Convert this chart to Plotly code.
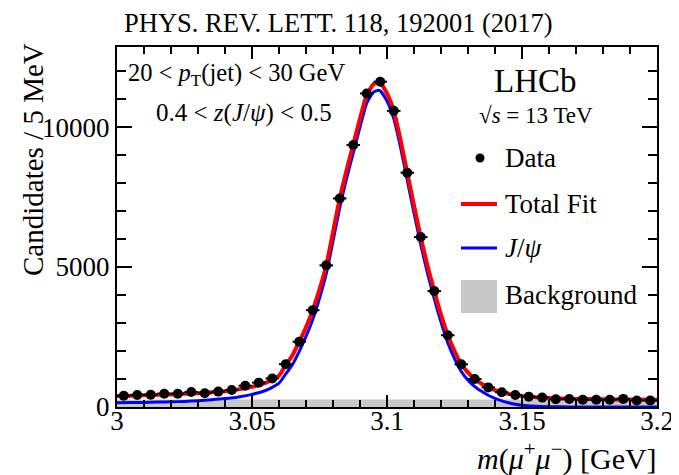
import numpy as np
import plotly.graph_objects as go

# ---- data ----
bin_centers = [3.0025 + 0.005 * i for i in range(40)]
data_counts = [400, 430, 440, 475, 475, 535, 490, 550, 610, 760,
               870, 1020, 1530, 2330, 3460, 5060, 7450, 9360, 11200, 11620,
               10580, 8370, 6070, 4140, 2565, 1525, 1000, 700, 525, 430,
               370, 335, 275, 285, 260, 260, 260, 290, 235, 235]
bin_half_width = 0.0025

fit_mass = [3.000, 3.005, 3.010, 3.015, 3.020, 3.025, 3.030, 3.035, 3.040, 3.045,
            3.050, 3.055, 3.0575, 3.060, 3.0625, 3.065, 3.0675, 3.070, 3.0725, 3.075,
            3.0775, 3.080, 3.0825, 3.085, 3.0875, 3.090, 3.0925, 3.095, 3.0965, 3.0975,
            3.100, 3.1025, 3.105, 3.1075, 3.110, 3.1125, 3.115, 3.1175, 3.120, 3.1225,
            3.125, 3.1275, 3.130, 3.1325, 3.135, 3.1375, 3.140, 3.1425, 3.145, 3.1475,
            3.150, 3.155, 3.160, 3.165, 3.170, 3.180, 3.190, 3.200]
total_fit = [395, 405, 420, 435, 450, 470, 495, 525, 565, 630,
             720, 860, 970, 1120, 1500, 1850, 2330, 2850, 3460, 4200,
             5060, 6250, 7450, 8450, 9380, 10300, 11150, 11530, 11600, 11570,
             11200, 10580, 9550, 8370, 7200, 6070, 5050, 4140, 3300, 2570,
             2000, 1530, 1230, 1000, 830, 700, 600, 525, 470, 430,
             390, 350, 320, 300, 290, 275, 265, 258]
jpsi_fit = [150, 157, 165, 175, 185, 200, 225, 258, 300, 360,
            450, 590, 700, 850, 1180, 1520, 1990, 2520, 3130, 3880,
            4760, 5920, 7120, 8150, 9080, 10000, 10850, 11250, 11310, 11290,
            10930, 10300, 9280, 8100, 6930, 5800, 4780, 3870, 3030, 2300,
            1730, 1270, 960, 730, 560, 420, 310, 220, 150, 100,
            62, 25, 10, 5, 3, 1, 0, 0]
bg_mass = [3.0, 3.2]
bg_counts = [268, 268]

x_tickvals = [3.0, 3.05, 3.1, 3.15, 3.2]
x_ticktext = ["3", "3.05", "3.1", "3.15", "3.2"]
y_tickvals = [0, 5000, 10000]
y_ticktext = ["0", "5000", "10000"]

FONT = "Liberation Serif, Times New Roman, serif"
RED = "#ff0000"
BLUE = "#0000ff"
GRAY = "#c8c8c8"

fig = go.Figure()
fig.add_trace(go.Scatter(x=bg_mass, y=bg_counts, mode="lines", fill="tozeroy",
                         fillcolor=GRAY, line=dict(width=0, color=GRAY),
                         name="Background", showlegend=False))
fig.add_trace(go.Scatter(x=fit_mass, y=jpsi_fit, mode="lines",
                         line=dict(color=BLUE, width=3, shape="spline", smoothing=0.6),
                         name="J/ψ", showlegend=False))
fig.add_trace(go.Scatter(x=fit_mass, y=total_fit, mode="lines",
                         line=dict(color=RED, width=4, shape="spline", smoothing=0.6),
                         name="Total Fit", showlegend=False))
fig.add_trace(go.Scatter(x=bin_centers, y=data_counts, mode="markers",
                         marker=dict(color="black", size=10),
                         error_x=dict(type="constant", value=bin_half_width,
                                      color="black", thickness=2, width=0),
                         name="Data", showlegend=False))

# page body adds an 8px offset; design in screen pixels and compensate
OFF = 8
W, H = 679, 475
PL, PR, PT, PB = 117, 657, 47, 407          # plot area in screen pixels
L, T = PL - OFF, PT - OFF
R = W - (PR - OFF)
B = H - (PB - OFF)
pw, ph = PR - PL, PB - PT

def px(xs):
    return (xs - PL) / pw

def py(ys):
    return (PB - ys) / ph

ann = []
def add_text(text, xs, ys, size, xanchor="left", angle=0):
    ann.append(dict(text=text, x=px(xs), y=py(ys), xref="paper", yref="paper",
                    xanchor=xanchor, yanchor="middle", showarrow=False,
                    textangle=angle, font=dict(family=FONT, size=size, color="black")))

add_text("PHYS. REV. LETT. 118, 192001 (2017)", 338, 23, 26.5, "center")
add_text("20 &lt; <i>p</i><sub>T</sub>(jet) &lt; 30 GeV", 126, 75, 24.5)
add_text("0.4 &lt; <i>z</i>(<i>J</i>/<i>ψ</i>) &lt; 0.5", 244, 113, 25, "center")
add_text("LHCb", 535, 81, 33, "center")
add_text("√<i>s</i> = 13 TeV", 536, 115, 23, "center")
add_text("Data", 503, 158, 27)
add_text("Total Fit", 503, 204, 27)
add_text("<i>J</i>/<i>ψ</i>", 503, 248, 27)
add_text("Background", 503, 295, 27)
add_text("Candidates / 5 MeV", 33, 160, 29, "center", -90)
add_text("<i>m</i>(<i>μ</i><sup>+</sup><i>μ</i><sup>−</sup>) [GeV]", 659, 456, 30, "right")

shapes = [
    dict(type="circle", xref="paper", yref="paper", x0=px(475.5), x1=px(484.5),
         y0=py(162.5), y1=py(153.5), fillcolor="black", line=dict(width=0)),
    dict(type="line", xref="paper", yref="paper", x0=px(461), x1=px(497),
         y0=py(204), y1=py(204), line=dict(color=RED, width=4)),
    dict(type="line", xref="paper", yref="paper", x0=px(461), x1=px(497),
         y0=py(248), y1=py(248), line=dict(color=BLUE, width=3)),
    dict(type="rect", xref="paper", yref="paper", x0=px(461), x1=px(497),
         y0=py(313), y1=py(280), fillcolor=GRAY, line=dict(width=0)),
]

axis_common = dict(showgrid=False, zeroline=False, showline=True, linecolor="black",
                   linewidth=2, mirror="allticks", ticks="inside", tickcolor="black",
                   tickwidth=1.5, tickfont=dict(family=FONT, size=27, color="black"))

fig.update_layout(
    width=W, height=H,
    margin=dict(l=L, r=R, t=T, b=B),
    paper_bgcolor="white", plot_bgcolor="white",
    showlegend=False,
    xaxis=dict(range=[3.0, 3.2], tickvals=x_tickvals, ticktext=x_ticktext, ticklen=12,
               ticklabelstandoff=-11,
               minor=dict(dtick=0.01, ticklen=7, ticks="inside", tickcolor="black", tickwidth=1.5),
               **axis_common),
    yaxis=dict(range=[0, 12860], tickvals=y_tickvals, ticktext=y_ticktext, ticklen=15,
               minor=dict(tickvals=[1000, 2000, 3000, 4000, 6000, 7000, 8000, 9000, 11000, 12000],
                          ticklen=9, ticks="inside", tickcolor="black", tickwidth=1.5),
               **axis_common),
    annotations=ann,
    shapes=shapes,
)

fig.write_html("out.html")
